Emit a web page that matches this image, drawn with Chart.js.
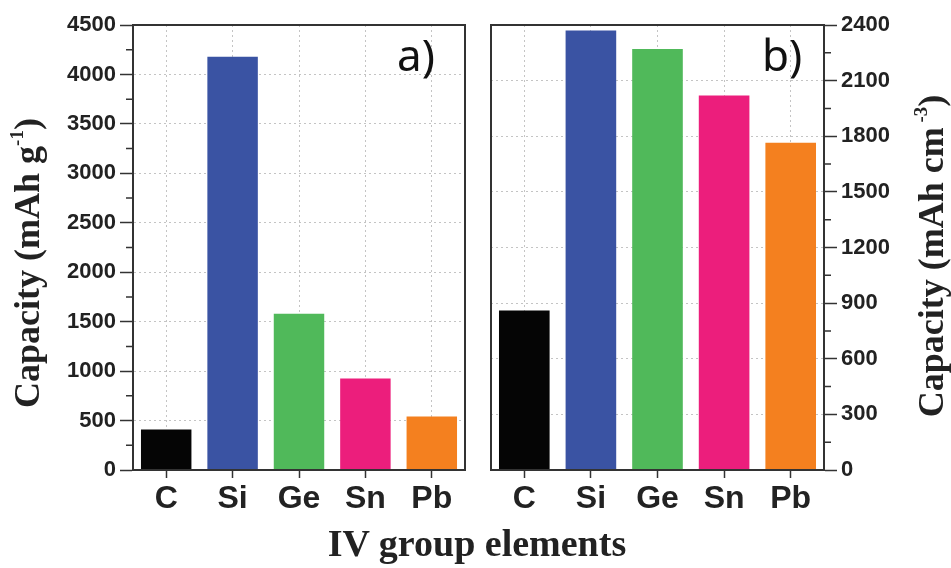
<!DOCTYPE html>
<html>
<head>
<meta charset="utf-8">
<script src="https://cdn.jsdelivr.net/npm/chart.js@4.4.1/dist/chart.umd.min.js"></script>
<style>
body{margin:0;background:#fff;width:951px;height:568px;position:relative;overflow:hidden;}
canvas{position:absolute;top:0;}
#c1{left:0;}
#c2{left:475px;}
.lab{position:absolute;top:32px;font-family:"Noto Sans","Open Sans",sans-serif;font-size:44px;line-height:44px;color:#111;}
#xt{position:absolute;left:0;width:954px;top:524px;text-align:center;font-family:"Liberation Serif","DejaVu Serif",serif;font-weight:bold;font-size:38px;line-height:38px;color:#222;}
</style>
</head>
<body>
<canvas id="c1" width="475" height="540"></canvas>
<canvas id="c2" width="476" height="540"></canvas>
<div class="lab" style="left:397px">a)</div>
<div class="lab" style="left:762px">b)</div>
<div id="xt">IV group elements</div>
<script>
//categorie
const elements = ['C', 'Si', 'Ge', 'Sn', 'Pb'];
//capacita gravimetrica (mAh/g) - pannello a)
const gravCap = [410, 4180, 1580, 925, 540];
//capacita volumetrica (mAh/cm3) - pannello b)
const volCap = [860, 2370, 2270, 2020, 1765];
//colori barre
const barColors = ['#050505', '#3a53a3', '#50b95a', '#ec1e7c', '#f4801f'];
//assi y
const gravAxis = [0, 4500, 500];
const volAxis = [0, 2400, 300];

const frameColor = '#333';
const gridColor = '#c4c4c4';

//titolo asse y ruotato, con apice
function drawYTitle(ctx, x, y, main, sup, end){
	ctx.save();
	ctx.translate(x, y);
	ctx.rotate(-Math.PI/2);
	ctx.fillStyle = '#222';
	ctx.textBaseline = 'middle';
	const big = 'bold 36px "Liberation Serif"';
	const small = 'bold 19px "Liberation Serif"';
	ctx.font = big;
	const w1 = ctx.measureText(main).width;
	const w3 = ctx.measureText(end).width;
	ctx.font = small;
	const w2 = ctx.measureText(sup).width;
	let sx = -(w1 + w2 + w3)/2;
	ctx.font = big;
	ctx.fillText(main, sx, 0);
	ctx.font = small;
	ctx.fillText(sup, sx + w1, -12);
	ctx.font = big;
	ctx.fillText(end, sx + w1 + w2, 0);
	ctx.restore();
}

//cornice + tacche minori
const framePlugin = {
	id: 'frame',
	afterDraw(chart, args, opts){
		const ctx = chart.ctx;
		const a = chart.chartArea;
		ctx.save();
		ctx.strokeStyle = frameColor;
		ctx.lineWidth = 2;
		ctx.strokeRect(a.left, a.top, a.right - a.left, a.bottom - a.top);
		const sc = chart.scales.y;
		const t = sc.ticks;
		ctx.lineWidth = 1.5;
		ctx.beginPath();
		for(let i = 0; i < t.length - 1; i++){
			const py = sc.getPixelForValue((t[i].value + t[i+1].value)/2);
			if(opts.side == 'left'){
				ctx.moveTo(a.left, py);
				ctx.lineTo(a.left - 7, py);
			} else {
				ctx.moveTo(a.right, py);
				ctx.lineTo(a.right + 7, py);
			}
		}
		ctx.stroke();
		ctx.restore();
		drawYTitle(ctx, opts.tx, opts.ty, opts.main, opts.sup, ')');
	}
};

function makeChart(id, values, axis, side, pad, yWidth, title){
	return new Chart(document.getElementById(id), {
		type: 'bar',
		data: {
			labels: elements,
			datasets: [{
				data: values,
				backgroundColor: barColors,
				borderWidth: 0,
				barPercentage: 0.76,
				categoryPercentage: 1
			}]
		},
		options: {
			responsive: false,
			animation: false,
			devicePixelRatio: 1,
			layout: { padding: pad },
			plugins: {
				legend: { display: false },
				tooltip: { enabled: false },
				frame: Object.assign({ side: side }, title)
			},
			scales: {
				x: {
					grid: {
						offset: false,
						color: gridColor,
						tickColor: frameColor,
						tickLength: 8,
						tickWidth: 1.5
					},
					border: { color: frameColor, width: 2, dash: [2, 3] },
					ticks: {
						color: '#222',
						padding: 2,
						font: { family: '"Liberation Sans", Arial, sans-serif', size: 32, weight: 'bold' }
					},
					afterFit(scale){ scale.height = 70; }
				},
				y: {
					position: side,
					min: axis[0],
					max: axis[1],
					grid: {
						color: gridColor,
						tickColor: frameColor,
						tickLength: 13,
						tickWidth: 1.5
					},
					border: { color: frameColor, width: 2, dash: [2, 3] },
					ticks: {
						stepSize: axis[2],
						color: '#222',
						padding: 4,
						font: { family: '"Liberation Sans", Arial, sans-serif', size: 22, weight: 'bold' },
						callback: v => String(v)
					},
					afterFit(scale){ scale.width = yWidth; }
				}
			}
		},
		plugins: [framePlugin]
	});
}

makeChart('c1', gravCap, gravAxis, 'left', {left: 0, right: 10, top: 25, bottom: 0}, 133,
	{tx: 30, ty: 263, main: 'Capacity (mAh g', sup: '-1'});
makeChart('c2', volCap, volAxis, 'right', {left: 16, right: 0, top: 25, bottom: 0}, 127,
	{tx: 459, ty: 256, main: 'Capacity (mAh cm', sup: ' -3'});
</script>
</body>
</html>
